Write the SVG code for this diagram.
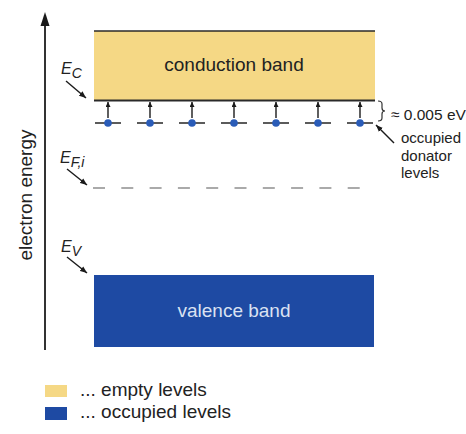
<svg xmlns="http://www.w3.org/2000/svg" width="466" height="434" viewBox="0 0 466 434">
  <defs>
    <marker id="tri" viewBox="0 0 10 10" refX="10" refY="5" markerWidth="7" markerHeight="7" markerUnits="userSpaceOnUse" orient="auto">
      <path d="M0,1 L10,5 L0,9 Z" fill="#1a1a1a"/>
    </marker>
    <marker id="tri-s" viewBox="0 0 10 10" refX="10" refY="5" markerWidth="6" markerHeight="5" markerUnits="userSpaceOnUse" orient="auto">
      <path d="M0,0 L10,5 L0,10 Z" fill="#1a1a1a"/>
    </marker>
    <g id="donor">
      <line x1="-13" y1="0" x2="13" y2="0" stroke="#333" stroke-width="1.6"/>
      <line x1="0" y1="-5" x2="0" y2="-21" stroke="#1a1a1a" stroke-width="1.4" marker-end="url(#tri-s)"/>
      <circle cx="0" cy="0" r="3.8" fill="#2a5cb8"/>
    </g>
  </defs>
  <style>
    text { font-family: "Liberation Sans", Arial, sans-serif; fill: #222; }
    .big { font-size: 19px; }
    .small { font-size: 15px; }
    .lab { font-size: 16px; font-style: italic; }
    .sub { font-size: 14px; font-style: italic; }
    .ptr { stroke: #1a1a1a; stroke-width: 1.4; fill: none; marker-end: url(#tri); }
  </style>
  <rect width="466" height="434" fill="#ffffff"/>

  <!-- energy axis -->
  <g id="axis">
    <line x1="45" y1="22" x2="45" y2="350" stroke="#333" stroke-width="2"/>
    <path d="M45,12 L49.5,26 L40.5,26 Z" fill="#1a1a1a"/>
    <text class="big" transform="translate(32,195) rotate(-90)" text-anchor="middle">electron energy</text>
  </g>

  <!-- conduction band -->
  <g id="conduction-band">
    <rect x="94" y="31" width="281" height="69" fill="#f5d885"/>
    <line x1="94" y1="31" x2="375" y2="31" stroke="#2a2a2a" stroke-width="1.6"/>
    <line x1="94" y1="100.5" x2="375" y2="100.5" stroke="#2a2a2a" stroke-width="2"/>
    <text class="big" x="234" y="71" text-anchor="middle" fill="#3a3320">conduction band</text>
  </g>

  <!-- valence band -->
  <g id="valence-band">
    <rect x="94" y="275" width="280" height="72" fill="#1e4aa3"/>
    <text class="big" x="234" y="317" text-anchor="middle" style="fill:#dbe2f2">valence band</text>
  </g>

  <!-- donator levels -->
  <g id="donor-levels">
    <use href="#donor" x="108" y="123"/>
    <use href="#donor" x="150" y="123"/>
    <use href="#donor" x="192" y="123"/>
    <use href="#donor" x="234" y="123"/>
    <use href="#donor" x="276" y="123"/>
    <use href="#donor" x="318" y="123"/>
    <use href="#donor" x="360" y="123"/>
  </g>

  <!-- intrinsic Fermi level -->
  <g id="fermi-level">
    <line x1="93" y1="188" x2="366" y2="188" stroke="#aaaaaa" stroke-width="2" stroke-dasharray="12,16.3"/>
  </g>

  <!-- level labels -->
  <g id="label-ec">
    <text class="lab" x="61" y="74">E<tspan class="sub" dy="4">C</tspan></text>
  </g>
  <g id="label-efi">
    <text class="lab" x="60" y="163">E<tspan class="sub" dy="4">F,i</tspan></text>
  </g>
  <g id="label-ev">
    <text class="lab" x="61" y="252">E<tspan class="sub" dy="4">V</tspan></text>
  </g>

  <!-- gap annotation -->
  <g id="gap-label">
    <path d="M378,101 Q382,101 382,104 L382,108 Q382,111 385,111 Q382,111 382,114 L382,118 Q382,121 378,121" fill="none" stroke="#333" stroke-width="1.2"/>
    <text class="small" x="391" y="120" style="font-size:15.5px">≈ 0.005 eV</text>
  </g>
  <g id="donor-label">
    <text class="small" x="401" y="143">occupied</text>
    <text class="small" x="401" y="161">donator</text>
    <text class="small" x="401" y="178">levels</text>
  </g>

  <!-- pointers -->
  <g id="connectors">
    <line class="ptr" x1="66" y1="81" x2="86" y2="98"/>
    <line class="ptr" x1="67" y1="169" x2="87" y2="185"/>
    <line class="ptr" x1="67" y1="257" x2="87" y2="273"/>
    <line class="ptr" x1="394" y1="143" x2="376" y2="125"/>
  </g>

  <!-- legend -->
  <g id="legend-empty">
    <rect x="45" y="385" width="22" height="12" fill="#f5d885"/>
    <text class="big" x="80" y="396">... empty levels</text>
  </g>
  <g id="legend-occupied">
    <rect x="45" y="407" width="22" height="13" fill="#1e4aa3"/>
    <text class="big" x="80" y="418">... occupied levels</text>
  </g>
</svg>
